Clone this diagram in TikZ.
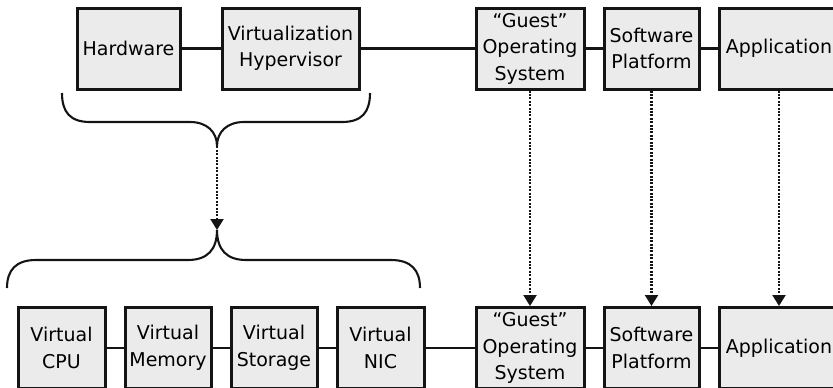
\documentclass[tikz,border=0pt]{standalone}
\usepackage{fontspec}
\setmainfont{DejaVu Sans}
\usetikzlibrary{arrows.meta}
\definecolor{boxfill}{HTML}{EBEBEC}
\definecolor{ink}{HTML}{141414}
\tikzset{
  compbox/.style={draw=ink, fill=boxfill, line width=3pt, inner sep=0pt,
    minimum height=81pt, align=center, font=\fontsize{19}{26.5}\selectfont},
  link/.style={draw=ink, line width=2.2pt},
  braceline/.style={draw=ink, line width=2.1pt},
  maparrow/.style={draw=ink, line width=2.2pt, dash pattern=on 2pt off 1.4pt,
    -{Triangle[width=13pt,length=11pt]}}
}
\begin{document}
\begin{tikzpicture}[x=1pt,y=-1pt]
\useasboundingbox (0,0) rectangle (833,388);
\clip (0,0) rectangle (833,388);
% top row
\node[compbox, minimum width=103pt] (hw) at (128.5,48.5) {Hardware};
\node[compbox, minimum width=137pt] (hyp) at (290.5,48.5) {Virtualization\\Hypervisor};
\node[compbox, minimum width=108pt] (gos) at (530,48.5) {“Guest”\\Operating\\System};
\node[compbox, minimum width=95pt] (sp) at (651.5,48.5) {Software\\Platform};
\node[compbox, minimum width=120pt] (app) at (779,48.5) {Application};
% bottom row
\node[compbox, minimum width=87pt] (cpu) at (61.5,348) {Virtual\\CPU};
\node[compbox, minimum width=86pt] (mem) at (168,348) {Virtual\\Memory};
\node[compbox, minimum width=86pt] (sto) at (274,348) {Virtual\\Storage};
\node[compbox, minimum width=87pt] (nic) at (380.5,348) {Virtual\\NIC};
\node[compbox, minimum width=108pt] (gos2) at (530,348) {“Guest”\\Operating\\System};
\node[compbox, minimum width=95pt] (sp2) at (651.5,348) {Software\\Platform};
\node[compbox, minimum width=120pt] (app2) at (779,348) {Application};
% connectors
\draw[link] (hw) -- (hyp);
\draw[link] (hyp) -- (gos);
\draw[link] (gos) -- (sp);
\draw[link] (sp) -- (app);
\draw[link] (cpu) -- (mem);
\draw[link] (mem) -- (sto);
\draw[link] (sto) -- (nic);
\draw[link] (nic) -- (gos2);
\draw[link] (gos2) -- (sp2);
\draw[link] (sp2) -- (app2);
% top brace
\coordinate (tbtip) at (217,146);
\draw[braceline] (62,93) .. controls (62,112) and (70,122) .. (90,122)
  -- (190,122) .. controls (207,122) and (217,132) .. (tbtip)
  .. controls (217,132) and (227,122) .. (244,122)
  -- (342,122) .. controls (362,122) and (370,112) .. (370,93);
% bottom brace
\coordinate (bbtip) at (217,230);
\draw[braceline] (7,288) .. controls (7,270) and (16,260) .. (36,260)
  -- (188,260) .. controls (207,260) and (217,250) .. (bbtip)
  .. controls (217,250) and (227,260) .. (246,260)
  -- (391,260) .. controls (411,260) and (420,270) .. (420,288);
% mapping arrows
\draw[maparrow] ([yshift=3pt]tbtip) -- (bbtip);
\draw[maparrow] (gos.south) -- (gos2.north);
\draw[maparrow] (sp.south) -- (sp2.north);
\draw[maparrow] (app.south) -- (app2.north);
\end{tikzpicture}
\end{document}
